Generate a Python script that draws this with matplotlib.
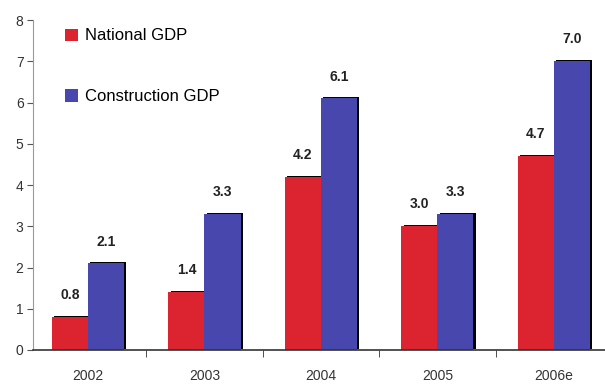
import numpy as np
import matplotlib.pyplot as plt

years = ["2002", "2003", "2004", "2005", "2006e"]
national = [0.8, 1.4, 4.2, 3.0, 4.7]
construction = [2.1, 3.3, 6.1, 3.3, 7.0]

red = "#dc2430"
blue = "#4747ad"

plt.rcParams['font.family'] = ['Liberation Sans Narrow', 'Liberation Sans', 'DejaVu Sans']

fig = plt.figure(figsize=(6.05, 3.9), dpi=100)
ax = fig.add_axes([0.055, 0.1026, 0.945, 0.846])

x = np.arange(len(years))
w = 0.31
off = 0.02

# dark shadow behind bars
ax.bar(x - w / 2 + off, national, w, bottom=0.03, color="black", zorder=1)
ax.bar(x + w / 2 + off, construction, w, bottom=0.03, color="black", zorder=1)
ax.bar(x - w / 2, national, w, color=red, zorder=2, label="National GDP")
ax.bar(x + w / 2, construction, w, color=blue, zorder=2, label="Construction GDP")

for xi, v in zip(x, national):
    ax.text(xi - w / 2, v + 0.36, f"{v:.1f}", ha="center", va="bottom",
            fontsize=10, fontweight="bold", color="#222222")
for xi, v in zip(x, construction):
    ax.text(xi + w / 2, v + 0.36, f"{v:.1f}", ha="center", va="bottom",
            fontsize=10, fontweight="bold", color="#222222")

ax.set_xlim(-0.47, 4.44)
ax.set_ylim(0, 8)
ax.set_yticks(range(0, 9))
ax.tick_params(axis="y", direction="out", length=4, color="#555555",
               labelsize=10, labelcolor="#333333", pad=3)

ax.set_xticks(x)
ax.set_xticklabels(years)
ax.set_xticks(x[:-1] + 0.5, minor=True)
ax.tick_params(axis="x", which="major", length=0, pad=14, labelsize=10,
               labelcolor="#333333")
ax.tick_params(axis="x", which="minor", direction="out", length=5, color="#333333")

for s in ["top", "right"]:
    ax.spines[s].set_visible(False)
ax.spines["left"].set_color("#999999")
ax.spines["bottom"].set_color("#333333")
ax.spines["bottom"].set_linewidth(1.2)

ax.legend(loc="upper left", bbox_to_anchor=(0.03, 1.02), frameon=False,
          fontsize=12, labelspacing=2.75, handlelength=0.75, handleheight=0.75,
          handletextpad=0.4)

fig.savefig("out.png", dpi=100)
